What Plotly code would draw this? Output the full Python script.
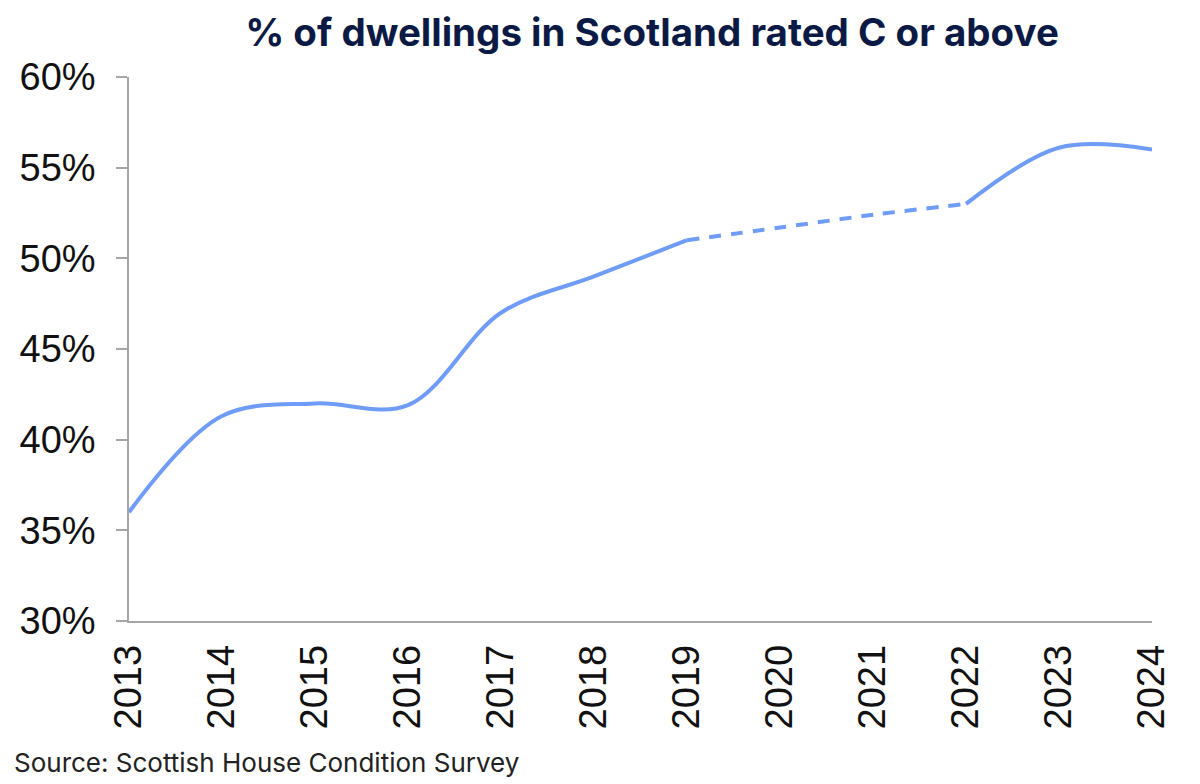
"""% of dwellings in Scotland rated C or above - plotly recreation"""
import plotly.graph_objects as go

# Data
years = [2013, 2014, 2015, 2016, 2017, 2018, 2019, 2020, 2021, 2022, 2023, 2024]
pct_c_or_above = [36, 41.3, 42, 41.9, 47, 49, 51, 51.7, 52.4, 53, 56.1, 56]
# 2020 and 2021 are drawn dashed in the original
dashed_years = [2019, 2020, 2021, 2022]

title = "% of dwellings in Scotland rated C or above"
source = "Source: Scottish House Condition Survey"
tick_years = [str(y) for y in years]

line_colour = "#6f9cf7"
axis_colour = "#a6a6a6"

# Split the series into solid / dashed / solid pieces
i0 = years.index(dashed_years[0])
i1 = years.index(dashed_years[-1])
pieces = [
    (years[:i0 + 1], pct_c_or_above[:i0 + 1], "solid"),
    (years[i0:i1 + 1], pct_c_or_above[i0:i1 + 1], "12px,10px"),
    (years[i1:], pct_c_or_above[i1:], "solid"),
]

fig = go.Figure()
for xs, ys, dash in pieces:
    fig.add_trace(go.Scatter(
        x=xs, y=ys, mode="lines",
        line=dict(color=line_colour, width=4, shape="spline", smoothing=1, dash=dash),
        showlegend=False, hoverinfo="skip",
    ))

# page body adds an 8px offset, so everything is placed 8px up/left
W, H = 1200, 784
L, R, T, B = 121, 56, 69, 171

fig.update_layout(
    width=W, height=H,
    margin=dict(l=L, r=R, t=T, b=B),
    plot_bgcolor="white", paper_bgcolor="white",
    title=dict(
        text=title, x=(644 - L) / (W - L - R), xref="paper", xanchor="center",
        y=1 - 25 / H, yref="container", yanchor="middle",
        font=dict(family="Inter", size=38.5, color="#0b1a45", weight="bold"),
    ),
    font=dict(family="Liberation Sans", color="#111111"),
)

fig.update_xaxes(
    range=[years[0], years[-1]], automargin=False,
    tickvals=years, ticktext=tick_years, tickangle=-90,
    ticks="", showline=True, linecolor=axis_colour, linewidth=1.5,
    showgrid=False, zeroline=False,
    tickfont=dict(size=38, color="#111111"), ticklabelstandoff=7,
)
fig.update_yaxes(
    range=[30, 60], dtick=5, ticksuffix="%", automargin=False,
    ticks="outside", ticklen=11, tickcolor=axis_colour, tickwidth=1.5,
    showline=True, linecolor=axis_colour, linewidth=1.5,
    showgrid=False, zeroline=False,
    tickfont=dict(size=38, color="#111111"), ticklabelstandoff=13,
)

# Source note, bottom left
fig.add_annotation(
    text=source, xref="paper", yref="paper",
    x=(4 - L) / (W - L - R), y=-(754 - (H - B)) / (H - T - B),
    xanchor="left", yanchor="middle", showarrow=False,
    font=dict(family="Inter", size=26, color="#222222"),
)

fig.write_html("out.html")
